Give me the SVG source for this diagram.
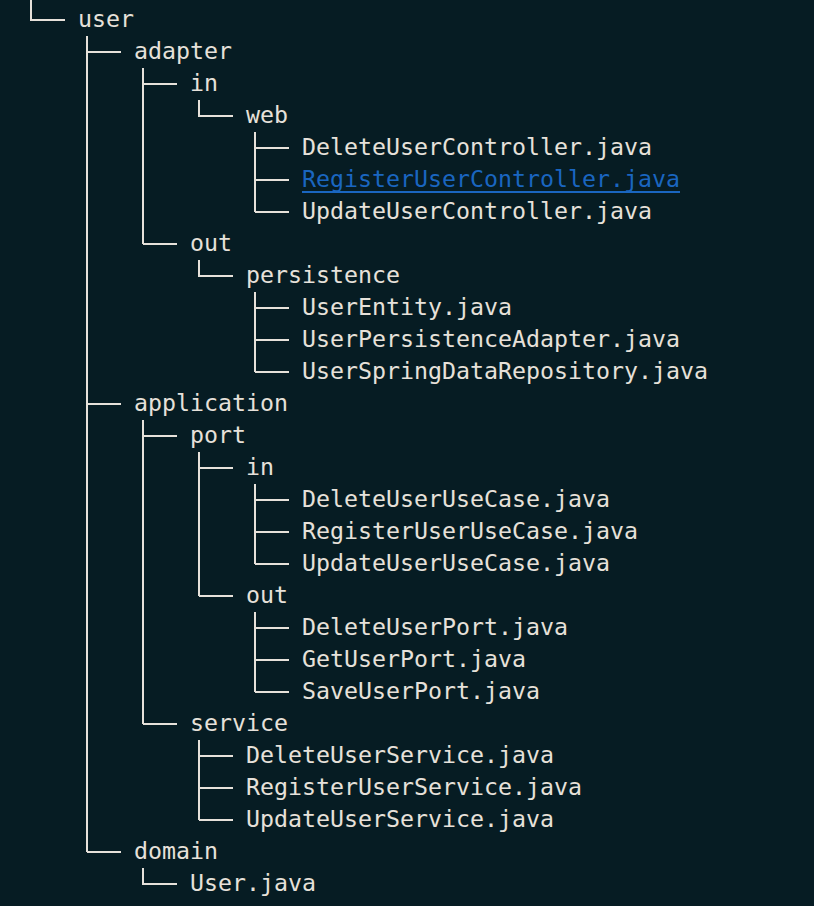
<svg xmlns="http://www.w3.org/2000/svg" width="814" height="906" viewBox="0 0 814 906">
<style>
.t{font-family:"DejaVu Sans Mono","Liberation Mono",monospace;font-size:23.26px;fill:#e6e1da}
.lk{fill:#1a66c0}
.c{stroke:#e6e1da;stroke-width:2;fill:none}
</style>
<rect width="814" height="906" fill="#061c23"/>
<g id="connectors" class="c">
<path d="M31 0V20H65"/>
<path d="M87 36V852"/>
<path d="M87 52H121M87 404H121M87 852H121"/>
<path d="M143 68V244"/>
<path d="M143 84H177M143 244H177"/>
<path d="M199 100V116H233"/>
<path d="M255 132V212"/>
<path d="M255 148H289M255 180H289M255 212H289"/>
<path d="M199 260V276H233"/>
<path d="M255 292V372"/>
<path d="M255 308H289M255 340H289M255 372H289"/>
<path d="M143 420V724"/>
<path d="M143 436H177M143 724H177"/>
<path d="M199 452V596"/>
<path d="M199 468H233M199 596H233"/>
<path d="M255 484V564"/>
<path d="M255 500H289M255 532H289M255 564H289"/>
<path d="M255 612V692"/>
<path d="M255 628H289M255 660H289M255 692H289"/>
<path d="M199 740V820"/>
<path d="M199 756H233M199 788H233M199 820H233"/>
<path d="M143 868V884H177"/>
</g>
<g id="n-user"><text class="t" x="78" y="27">user</text></g>
<g id="n-adapter"><text class="t" x="134" y="59">adapter</text></g>
<g id="n-adapter-in"><text class="t" x="190" y="91">in</text></g>
<g id="n-web"><text class="t" x="246" y="123">web</text></g>
<g id="n-DeleteUserController"><text class="t" x="302" y="155">DeleteUserController.java</text></g>
<g id="n-RegisterUserController"><text class="t lk" x="302" y="187">RegisterUserController.java</text><rect x="302" y="191" width="378" height="2" fill="#1a66c0"/></g>
<g id="n-UpdateUserController"><text class="t" x="302" y="219">UpdateUserController.java</text></g>
<g id="n-adapter-out"><text class="t" x="190" y="251">out</text></g>
<g id="n-persistence"><text class="t" x="246" y="283">persistence</text></g>
<g id="n-UserEntity"><text class="t" x="302" y="315">UserEntity.java</text></g>
<g id="n-UserPersistenceAdapter"><text class="t" x="302" y="347">UserPersistenceAdapter.java</text></g>
<g id="n-UserSpringDataRepository"><text class="t" x="302" y="379">UserSpringDataRepository.java</text></g>
<g id="n-application"><text class="t" x="134" y="411">application</text></g>
<g id="n-port"><text class="t" x="190" y="443">port</text></g>
<g id="n-port-in"><text class="t" x="246" y="475">in</text></g>
<g id="n-DeleteUserUseCase"><text class="t" x="302" y="507">DeleteUserUseCase.java</text></g>
<g id="n-RegisterUserUseCase"><text class="t" x="302" y="539">RegisterUserUseCase.java</text></g>
<g id="n-UpdateUserUseCase"><text class="t" x="302" y="571">UpdateUserUseCase.java</text></g>
<g id="n-port-out"><text class="t" x="246" y="603">out</text></g>
<g id="n-DeleteUserPort"><text class="t" x="302" y="635">DeleteUserPort.java</text></g>
<g id="n-GetUserPort"><text class="t" x="302" y="667">GetUserPort.java</text></g>
<g id="n-SaveUserPort"><text class="t" x="302" y="699">SaveUserPort.java</text></g>
<g id="n-service"><text class="t" x="190" y="731">service</text></g>
<g id="n-DeleteUserService"><text class="t" x="246" y="763">DeleteUserService.java</text></g>
<g id="n-RegisterUserService"><text class="t" x="246" y="795">RegisterUserService.java</text></g>
<g id="n-UpdateUserService"><text class="t" x="246" y="827">UpdateUserService.java</text></g>
<g id="n-domain"><text class="t" x="134" y="859">domain</text></g>
<g id="n-User"><text class="t" x="190" y="891">User.java</text></g>
</svg>
